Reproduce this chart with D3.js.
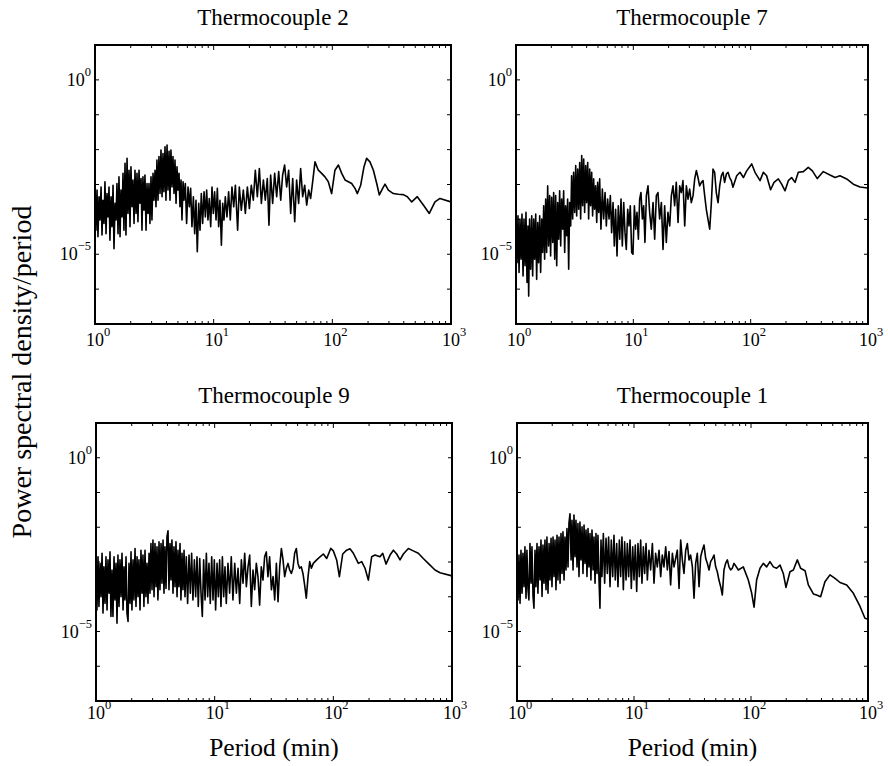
<!DOCTYPE html>
<html>
<head>
<meta charset="utf-8">
<script src="https://cdn.jsdelivr.net/npm/d3@7"></script>
<style>
  body { margin: 0; background: #fff; }
  text { font-family: "Liberation Serif", "Times New Roman", serif; fill: #000; }
</style>
</head>
<body>
<script>
var width = 888;
var height = 766;

var titles = ["Thermocouple 2", "Thermocouple 7", "Thermocouple 9", "Thermocouple 1"];
var xLabelTicks = [1, 10, 100, 1000];
var xLabelExps = ["0", "1", "2", "3"];
var yLabelTicks = [1, 1e-5];
var yLabelExps = ["0", "\u22125"];
var yDecades = [1, 1e-1, 1e-2, 1e-3, 1e-4, 1e-5, 1e-6];

// [log10 period (min), log10 PSD/period]
var tc2 = [[0,-3.64],[.008,-4.31],[.017,-3.16],[.025,-4.50],[.034,-3.35],[.042,-4.02],[.051,-3.07],[.059,-4.45],[.067,-3.45],[.076,-4.12],[.084,-2.92],[.093,-4.41],[.101,-3.26],[.110,-3.93],[.118,-3.07],[.126,-4.60],[.135,-3.35],[.143,-4.21],[.152,-3.02],[.160,-4.84],[.169,-3.54],[.177,-4.02],[.185,-2.97],[.194,-4.41],[.202,-2.78],[.211,-4.50],[.219,-3.16],[.228,-3.93],[.236,-2.68],[.244,-4.31],[.253,-2.39],[.261,-4.45],[.270,-2.25],[.278,-3.83],[.287,-2.59],[.295,-4.21],[.303,-2.49],[.312,-3.64],[.320,-2.87],[.329,-4.12],[.337,-2.59],[.346,-3.83],[.354,-2.68],[.362,-4.07],[.371,-2.59],[.379,-3.54],[.388,-2.83],[.396,-4.31],[.404,-2.78],[.413,-3.74],[.421,-2.73],[.430,-4.31],[.438,-2.97],[.447,-3.83],[.455,-2.97],[.463,-4.12],[.472,-2.78],[.480,-4.02],[.489,-2.68],[.497,-3.45],[.506,-2.59],[.514,-3.64],[.522,-2.30],[.531,-3.45],[.539,-2.20],[.548,-3.26],[.556,-2.01],[.565,-3.35],[.573,-2.11],[.581,-3.21],[.590,-1.92],[.598,-3.45],[.607,-1.87],[.615,-3.16],[.624,-2.05],[.632,-3.45],[.640,-2.01],[.649,-3.07],[.657,-2.20],[.666,-3.26],[.674,-2.30],[.683,-3.54],[.691,-2.49],[.699,-3.16],[.708,-2.68],[.716,-3.64],[.725,-2.87],[.733,-4.02],[.742,-2.92],[.750,-3.45],[.761,-2.97],[.772,-4.12],[.784,-3.07],[.795,-3.64],[.806,-3.11],[.817,-4.21],[.829,-3.35],[.840,-4.41],[.851,-3.45],[.862,-4.93],[.874,-3.54],[.885,-4.31],[.896,-3.26],[.907,-4.12],[.919,-3.21],[.930,-3.93],[.941,-3.16],[.952,-4.02],[.963,-3.40],[.975,-4.21],[.986,-3.07],[.997,-3.83],[1.008,-3.21],[1.020,-4.02],[1.031,-3.11],[1.042,-4.21],[1.053,-3.45],[1.065,-4.74],[1.076,-3.54],[1.087,-4.02],[1.098,-3.35],[1.112,-3.93],[1.126,-3.21],[1.140,-4.02],[1.154,-3.07],[1.169,-3.64],[1.183,-3.02],[1.202,-4.31],[1.216,-3.07],[1.233,-3.74],[1.250,-3.16],[1.267,-3.83],[1.284,-3.07],[1.301,-3.69],[1.317,-3.02],[1.334,-3.45],[1.351,-2.59],[1.368,-3.35],[1.385,-2.54],[1.402,-3.54],[1.419,-2.87],[1.435,-3.45],[1.452,-2.83],[1.466,-4.17],[1.480,-2.73],[1.497,-3.54],[1.514,-2.68],[1.531,-3.35],[1.548,-2.63],[1.565,-3.45],[1.581,-2.73],[1.598,-2.44],[1.615,-3.07],[1.632,-2.59],[1.649,-3.83],[1.666,-2.83],[1.683,-4.07],[1.699,-2.87],[1.716,-3.54],[1.733,-2.54],[1.750,-3.35],[1.767,-3.02],[1.784,-3.59],[1.801,-3.16],[1.817,-3.40],[1.829,-3.07],
  [1.854,-2.35],[1.882,-2.59],[1.910,-2.68],[1.938,-2.78],[1.966,-2.92],[1.994,-3.26],[2.022,-2.59],[2.051,-2.44],[2.079,-2.68],[2.107,-2.87],[2.135,-2.92],[2.163,-2.97],[2.191,-3.11],[2.211,-3.26],[2.239,-3.02],[2.267,-2.49],[2.289,-2.25],[2.317,-2.35],[2.346,-2.59],[2.374,-2.97],[2.396,-3.30],[2.424,-3.11],[2.444,-2.99],[2.472,-3.16],[2.514,-3.26],[2.556,-3.28],[2.598,-3.29],[2.632,-3.35],[2.669,-3.50],[2.716,-3.35],[2.767,-3.59],[2.817,-3.83],[2.865,-3.50],[2.907,-3.40],[3.0,-3.50]];

var tc7 = [[0,-4.38],[.009,-5.24],[.017,-3.90],[.026,-5.52],[.034,-3.99],[.043,-5.14],[.051,-3.85],[.060,-5.62],[.068,-3.99],[.077,-5.33],[.085,-3.80],[.094,-5.81],[.102,-4.19],[.108,-6.20],[.116,-3.99],[.125,-5.43],[.134,-3.90],[.142,-5.62],[.151,-3.99],[.159,-5.14],[.168,-3.85],[.176,-5.72],[.185,-4.09],[.193,-5.24],[.202,-3.90],[.210,-5.52],[.219,-3.99],[.227,-4.95],[.236,-3.61],[.244,-5.14],[.253,-3.42],[.261,-4.95],[.270,-3.04],[.278,-4.76],[.287,-3.32],[.295,-5.05],[.304,-3.37],[.313,-4.66],[.321,-3.23],[.330,-5.14],[.338,-3.32],[.347,-5.33],[.355,-3.52],[.364,-4.57],[.372,-3.18],[.381,-4.76],[.389,-3.42],[.398,-4.28],[.406,-3.18],[.415,-4.95],[.423,-3.61],[.432,-4.47],[.440,-3.42],[.449,-5.43],[.457,-3.52],[.466,-4.19],[.474,-2.75],[.483,-3.99],[.491,-2.65],[.500,-3.80],[.509,-2.46],[.517,-3.90],[.526,-2.56],[.534,-3.71],[.543,-2.37],[.551,-3.99],[.560,-2.17],[.568,-3.61],[.577,-2.27],[.585,-3.80],[.594,-2.46],[.602,-3.52],[.611,-2.37],[.619,-3.99],[.628,-2.56],[.636,-3.61],[.645,-2.65],[.653,-3.90],[.662,-2.84],[.670,-3.71],[.679,-3.04],[.688,-4.09],[.696,-2.94],[.705,-3.80],[.713,-2.84],[.724,-4.28],[.736,-3.13],[.747,-3.99],[.759,-3.23],[.770,-4.19],[.781,-3.42],[.793,-3.99],[.804,-3.32],[.815,-4.38],[.827,-3.52],[.838,-4.76],[.849,-3.71],[.861,-5.05],[.872,-3.61],[.884,-4.57],[.895,-3.42],[.906,-4.76],[.918,-3.52],[.929,-4.38],[.940,-4.86],[.952,-3.71],[.963,-4.19],[.974,-3.61],[.986,-4.95],[.997,-5.00],[1.009,-3.61],[1.020,-4.28],[1.031,-3.80],[1.043,-4.57],[1.054,-3.42],[1.065,-3.23],[1.077,-3.99],[1.088,-3.61],[1.099,-4.66],[1.111,-3.32],[1.125,-3.04],[1.139,-3.80],[1.153,-4.28],[1.168,-3.52],[1.182,-4.57],[1.196,-3.32],[1.210,-3.23],[1.224,-3.99],[1.239,-3.52],[1.253,-4.86],[1.267,-3.61],[1.281,-4.66],[1.295,-3.80],[1.310,-4.19],[1.324,-3.32],[1.338,-3.04],[1.352,-3.61],[1.366,-2.94],[1.381,-4.09],[1.395,-3.04],[1.409,-3.23],[1.423,-2.89],[1.438,-4.19],[1.452,-3.04],[1.466,-3.42],[1.480,-3.13],[1.494,-3.52],[1.509,-3.32],[1.523,-2.84],[1.537,-2.60],[1.551,-2.80],[1.565,-3.04],[1.580,-2.94],[1.594,-2.89],[1.608,-3.32],[1.622,-3.71],[1.636,-3.99],[1.651,-4.28],[1.665,-3.52],[1.679,-2.56],[1.693,-2.65],[1.707,-3.23],[1.722,-3.52],[1.736,-3.04],[1.750,-2.75],[1.764,-2.65],[1.778,-2.94],[1.793,-2.70],[1.807,-2.65],[1.821,-2.80],[1.835,-2.89],[1.849,-3.08],
  [1.881,-2.75],[1.909,-2.65],[1.938,-2.80],[1.966,-2.61],[2.009,-2.41],[2.037,-2.65],[2.080,-2.89],[2.108,-2.65],[2.136,-2.75],[2.170,-3.15],[2.199,-2.94],[2.236,-2.84],[2.264,-2.99],[2.293,-3.18],[2.321,-2.89],[2.349,-2.80],[2.378,-2.94],[2.406,-2.65],[2.449,-2.63],[2.491,-2.51],[2.526,-2.61],[2.568,-2.83],[2.619,-2.63],[2.676,-2.73],[2.719,-2.80],[2.761,-2.75],[2.818,-2.84],[2.875,-2.99],[2.932,-3.07],[2.997,-3.10]];

var tc9 = [[0,-3.42],[.008,-4.38],[.017,-2.85],[.025,-4.28],[.034,-3.04],[.042,-4.00],[.051,-2.75],[.059,-4.47],[.067,-3.14],[.076,-4.19],[.084,-2.85],[.093,-4.38],[.101,-2.94],[.110,-3.90],[.118,-2.71],[.126,-4.57],[.135,-3.23],[.143,-4.57],[.152,-2.85],[.160,-4.09],[.169,-3.04],[.177,-4.76],[.185,-2.80],[.194,-4.28],[.202,-2.94],[.211,-4.00],[.219,-2.75],[.228,-4.38],[.236,-3.14],[.244,-4.09],[.253,-2.85],[.261,-4.47],[.270,-4.71],[.278,-3.04],[.287,-4.19],[.295,-2.71],[.303,-4.38],[.312,-2.94],[.320,-4.09],[.329,-2.61],[.337,-4.28],[.346,-2.85],[.354,-4.00],[.362,-2.94],[.371,-4.38],[.379,-2.66],[.388,-3.90],[.396,-2.80],[.404,-4.28],[.413,-2.66],[.421,-4.00],[.430,-3.04],[.438,-4.19],[.447,-2.75],[.455,-3.90],[.463,-2.47],[.472,-3.80],[.480,-2.37],[.489,-4.00],[.497,-2.47],[.506,-3.71],[.514,-2.56],[.522,-4.09],[.531,-2.42],[.539,-3.80],[.548,-2.47],[.556,-3.61],[.565,-2.37],[.573,-3.90],[.581,-2.56],[.590,-3.76],[.598,-2.28],[.607,-2.10],[.615,-3.80],[.624,-2.47],[.632,-3.52],[.640,-2.37],[.649,-3.90],[.657,-2.56],[.666,-3.71],[.674,-2.42],[.683,-4.00],[.691,-2.66],[.699,-3.71],[.708,-2.47],[.716,-4.09],[.725,-2.75],[.733,-3.80],[.742,-2.66],[.750,-4.00],[.761,-2.85],[.772,-4.19],[.784,-2.80],[.795,-3.90],[.806,-2.75],[.817,-4.09],[.829,-2.94],[.840,-4.00],[.851,-2.85],[.862,-4.28],[.874,-2.90],[.885,-3.90],[.896,-4.57],[.907,-2.94],[.919,-4.09],[.930,-2.75],[.941,-4.00],[.952,-3.04],[.963,-4.19],[.975,-2.85],[.986,-4.09],[.997,-2.94],[1.008,-4.38],[1.020,-3.04],[1.031,-4.00],[1.042,-2.94],[1.053,-4.28],[1.065,-2.85],[1.076,-4.00],[1.087,-3.14],[1.098,-4.19],[1.112,-3.04],[1.126,-3.90],[1.140,-2.85],[1.154,-4.09],[1.169,-3.04],[1.183,-3.90],[1.197,-3.18],[1.211,-4.19],[1.225,-2.94],[1.239,-3.61],[1.253,-2.75],[1.267,-3.71],[1.281,-3.14],[1.295,-2.80],[1.309,-4.28],[1.323,-3.23],[1.337,-3.80],[1.351,-3.04],[1.365,-3.42],[1.379,-4.24],[1.393,-3.14],[1.407,-3.52],[1.421,-2.85],[1.435,-2.71],[1.449,-3.42],[1.463,-2.85],[1.478,-3.80],[1.492,-3.42],[1.506,-4.09],[1.520,-3.04],[1.534,-4.14],[1.548,-3.14],[1.562,-2.61],[1.576,-2.94],[1.590,-3.42],[1.604,-3.18],[1.618,-3.04],[1.632,-3.23],[1.646,-3.33],[1.660,-3.18],[1.674,-2.75],[1.688,-2.61],[1.702,-3.04],[1.716,-3.18],[1.730,-3.14],[1.744,-3.33],[1.758,-3.66],[1.772,-4.04],[1.787,-3.42],[1.801,-2.99],[1.815,-3.18],
  [1.831,-3.04],[1.860,-2.94],[1.888,-2.85],[1.916,-2.77],[1.944,-2.90],[1.978,-2.61],[2.000,-2.68],[2.028,-2.94],[2.051,-3.42],[2.079,-2.77],[2.112,-2.66],[2.140,-2.62],[2.169,-2.75],[2.211,-3.04],[2.239,-2.99],[2.267,-3.18],[2.295,-3.52],[2.323,-2.85],[2.351,-2.80],[2.393,-2.85],[2.416,-2.75],[2.444,-3.06],[2.478,-2.80],[2.506,-2.66],[2.534,-2.77],[2.562,-2.94],[2.590,-2.77],[2.632,-2.61],[2.674,-2.68],[2.716,-2.75],[2.758,-2.90],[2.815,-3.09],[2.857,-3.23],[2.899,-3.31],[3.0,-3.40]];

var tc1 = [[0,-3.14],[.009,-4.09],[.017,-2.80],[.026,-4.19],[.034,-2.66],[.043,-3.90],[.051,-2.75],[.060,-3.71],[.068,-2.56],[.077,-4.04],[.085,-2.66],[.094,-3.80],[.102,-4.09],[.111,-2.47],[.120,-3.61],[.128,-2.56],[.137,-3.99],[.145,-4.33],[.154,-2.66],[.162,-3.71],[.171,-2.47],[.179,-3.90],[.188,-2.56],[.197,-3.52],[.205,-2.37],[.214,-3.99],[.222,-2.51],[.231,-3.61],[.239,-2.37],[.248,-3.80],[.256,-2.28],[.265,-3.90],[.274,-2.47],[.282,-3.52],[.291,-2.32],[.299,-3.71],[.308,-2.28],[.316,-3.42],[.325,-2.37],[.333,-3.80],[.342,-2.23],[.350,-3.52],[.359,-2.28],[.368,-3.61],[.376,-2.18],[.385,-3.33],[.393,-2.13],[.402,-3.52],[.410,-2.28],[.419,-3.23],[.427,-2.04],[.436,-3.14],[.444,-1.89],[.453,-1.61],[.462,-2.94],[.470,-1.80],[.479,-3.23],[.487,-1.65],[.496,-2.85],[.504,-1.80],[.513,-3.14],[.521,-1.89],[.530,-3.42],[.538,-1.85],[.547,-2.94],[.556,-1.99],[.564,-3.33],[.573,-1.94],[.581,-3.04],[.590,-2.08],[.598,-3.42],[.607,-2.04],[.615,-3.14],[.624,-2.18],[.632,-3.52],[.641,-2.08],[.650,-3.23],[.658,-2.28],[.667,-3.61],[.675,-2.18],[.684,-3.33],[.692,-2.23],[.701,-3.52],[.709,-4.33],[.718,-2.37],[.726,-3.42],[.738,-2.18],[.749,-3.61],[.761,-2.32],[.772,-3.33],[.783,-2.28],[.795,-3.71],[.806,-2.37],[.818,-3.42],[.829,-2.23],[.840,-3.52],[.852,-2.47],[.863,-3.71],[.875,-2.37],[.886,-3.42],[.897,-2.28],[.909,-3.80],[.920,-2.42],[.932,-3.52],[.943,-2.47],[.954,-3.42],[.966,-2.37],[.977,-3.76],[.989,-2.56],[1.000,-3.52],[1.011,-2.51],[1.023,-3.85],[1.034,-2.47],[1.046,-3.42],[1.057,-2.37],[1.068,-3.61],[1.080,-2.56],[1.091,-3.33],[1.103,-2.47],[1.114,-3.52],[1.128,-2.66],[1.142,-3.23],[1.157,-2.47],[1.171,-3.61],[1.185,-2.75],[1.199,-3.14],[1.214,-2.66],[1.228,-3.42],[1.242,-2.80],[1.256,-3.14],[1.271,-2.56],[1.285,-3.23],[1.299,-2.70],[1.313,-3.66],[1.328,-2.75],[1.342,-3.14],[1.356,-2.90],[1.370,-2.66],[1.385,-3.76],[1.399,-2.37],[1.413,-2.94],[1.427,-3.33],[1.442,-2.66],[1.456,-2.47],[1.470,-2.94],[1.484,-2.80],[1.499,-3.14],[1.513,-4.04],[1.527,-3.04],[1.541,-2.75],[1.556,-3.71],[1.570,-2.85],[1.584,-2.66],[1.598,-2.51],[1.613,-2.90],[1.627,-3.04],[1.641,-3.23],[1.655,-2.99],[1.670,-2.90],[1.684,-2.80],[1.698,-3.14],[1.712,-3.28],[1.726,-3.52],[1.741,-3.71],[1.755,-3.95],[1.769,-3.23],[1.783,-3.04],[1.798,-2.94],[1.812,-3.14],[1.826,-3.23],[1.840,-3.18],[1.855,-3.04],
  [1.892,-3.23],[1.934,-3.14],[1.977,-3.52],[2.006,-3.90],[2.026,-4.30],[2.048,-3.52],[2.077,-3.18],[2.105,-3.04],[2.134,-3.14],[2.162,-2.99],[2.191,-3.14],[2.219,-3.18],[2.248,-3.09],[2.276,-3.33],[2.299,-3.73],[2.333,-3.28],[2.362,-3.23],[2.396,-2.94],[2.424,-3.18],[2.462,-3.25],[2.490,-3.66],[2.533,-3.92],[2.561,-3.95],[2.595,-4.00],[2.632,-3.57],[2.675,-3.37],[2.718,-3.47],[2.761,-3.59],[2.818,-3.66],[2.875,-3.90],[2.932,-4.28],[2.974,-4.62],[3.003,-4.65]];

var series = [tc2, tc7, tc9, tc1];

// panel boxes in page pixels
var boxes = [
  { left: 95,  top: 45,  w: 356, h: 279, labelBase: 346 },
  { left: 516, top: 45,  w: 352, h: 279, labelBase: 346 },
  { left: 96,  top: 423, w: 356, h: 278, labelBase: 719 },
  { left: 517, top: 423, w: 351, h: 278, labelBase: 719 }
];

var svg = d3.select ("body").append ("svg")
  .attr ("width", width)
  .attr ("height", height);

function powerLabel (sel, tx, ty, exp, anchor) {
  var t = sel.append ("text")
    .attr ("x", tx)
    .attr ("y", ty)
    .attr ("text-anchor", anchor)
    .style ("font-size", "18px");
  t.append ("tspan").text ("10");
  t.append ("tspan")
    .attr ("dy", -10)
    .style ("font-size", "12.5px")
    .text (exp);
}

boxes.forEach (function (b, i) {
  var x = d3.scaleLog ().domain ([1, 1000]).range ([b.left, b.left + b.w]);
  var y = d3.scaleLog ().domain ([1e-7, 10]).range ([b.top + b.h, b.top]);
  var g = svg.append ("g");

  g.append ("clipPath").attr ("id", "clip" + i)
    .append ("rect")
    .attr ("x", b.left).attr ("y", b.top)
    .attr ("width", b.w).attr ("height", b.h);

  var line = d3.line ()
    .x (function (d) { return x (Math.pow (10, d[0])); })
    .y (function (d) { return y (Math.pow (10, d[1])); });

  g.append ("path")
    .datum (series[i])
    .attr ("clip-path", "url(#clip" + i + ")")
    .attr ("d", line)
    .style ("fill", "none")
    .style ("stroke", "#000")
    .style ("stroke-width", 1.6)
    .style ("stroke-linejoin", "round");

  // x ticks, bottom and top, pointing inward
  var xt = x.ticks ().filter (function (v) { return v > 1 && v < 1000; });
  xt.forEach (function (v) {
    var major = xLabelTicks.indexOf (v) >= 0;
    var len = major ? 5 : 3;
    var px = x (v);
    g.append ("line").attr ("x1", px).attr ("x2", px)
      .attr ("y1", b.top + b.h).attr ("y2", b.top + b.h - len)
      .style ("stroke", "#000").style ("stroke-width", 1);
    g.append ("line").attr ("x1", px).attr ("x2", px)
      .attr ("y1", b.top).attr ("y2", b.top + len)
      .style ("stroke", "#000").style ("stroke-width", 1);
  });

  // y ticks at every decade, left and right
  yDecades.forEach (function (v) {
    var py = y (v);
    g.append ("line").attr ("x1", b.left).attr ("x2", b.left + 4)
      .attr ("y1", py).attr ("y2", py)
      .style ("stroke", "#000").style ("stroke-width", 1);
    g.append ("line").attr ("x1", b.left + b.w).attr ("x2", b.left + b.w - 4)
      .attr ("y1", py).attr ("y2", py)
      .style ("stroke", "#000").style ("stroke-width", 1);
  });

  g.append ("rect")
    .attr ("x", b.left).attr ("y", b.top)
    .attr ("width", b.w).attr ("height", b.h)
    .style ("fill", "none")
    .style ("stroke", "#000")
    .style ("stroke-width", 2);

  xLabelTicks.forEach (function (v, k) {
    powerLabel (g, x (v) - 9, b.labelBase, xLabelExps[k], "start");
  });
  yLabelTicks.forEach (function (v, k) {
    powerLabel (g, b.left - 4, y (v) + 6, yLabelExps[k], "end");
  });

  g.append ("text")
    .attr ("x", b.left + b.w / 2)
    .attr ("y", b.top - 20)
    .attr ("text-anchor", "middle")
    .style ("font-size", "23px")
    .text (titles[i]);

  if (i >= 2) {
    g.append ("text")
      .attr ("x", b.left + b.w / 2)
      .attr ("y", 756)
      .attr ("text-anchor", "middle")
      .style ("font-size", "25.5px")
      .text ("Period (min)");
  }
});

svg.append ("text")
  .attr ("transform", "translate(31,372) rotate(-90)")
  .attr ("text-anchor", "middle")
  .style ("font-size", "28px")
  .text ("Power spectral density/period");
</script>
</body>
</html>
